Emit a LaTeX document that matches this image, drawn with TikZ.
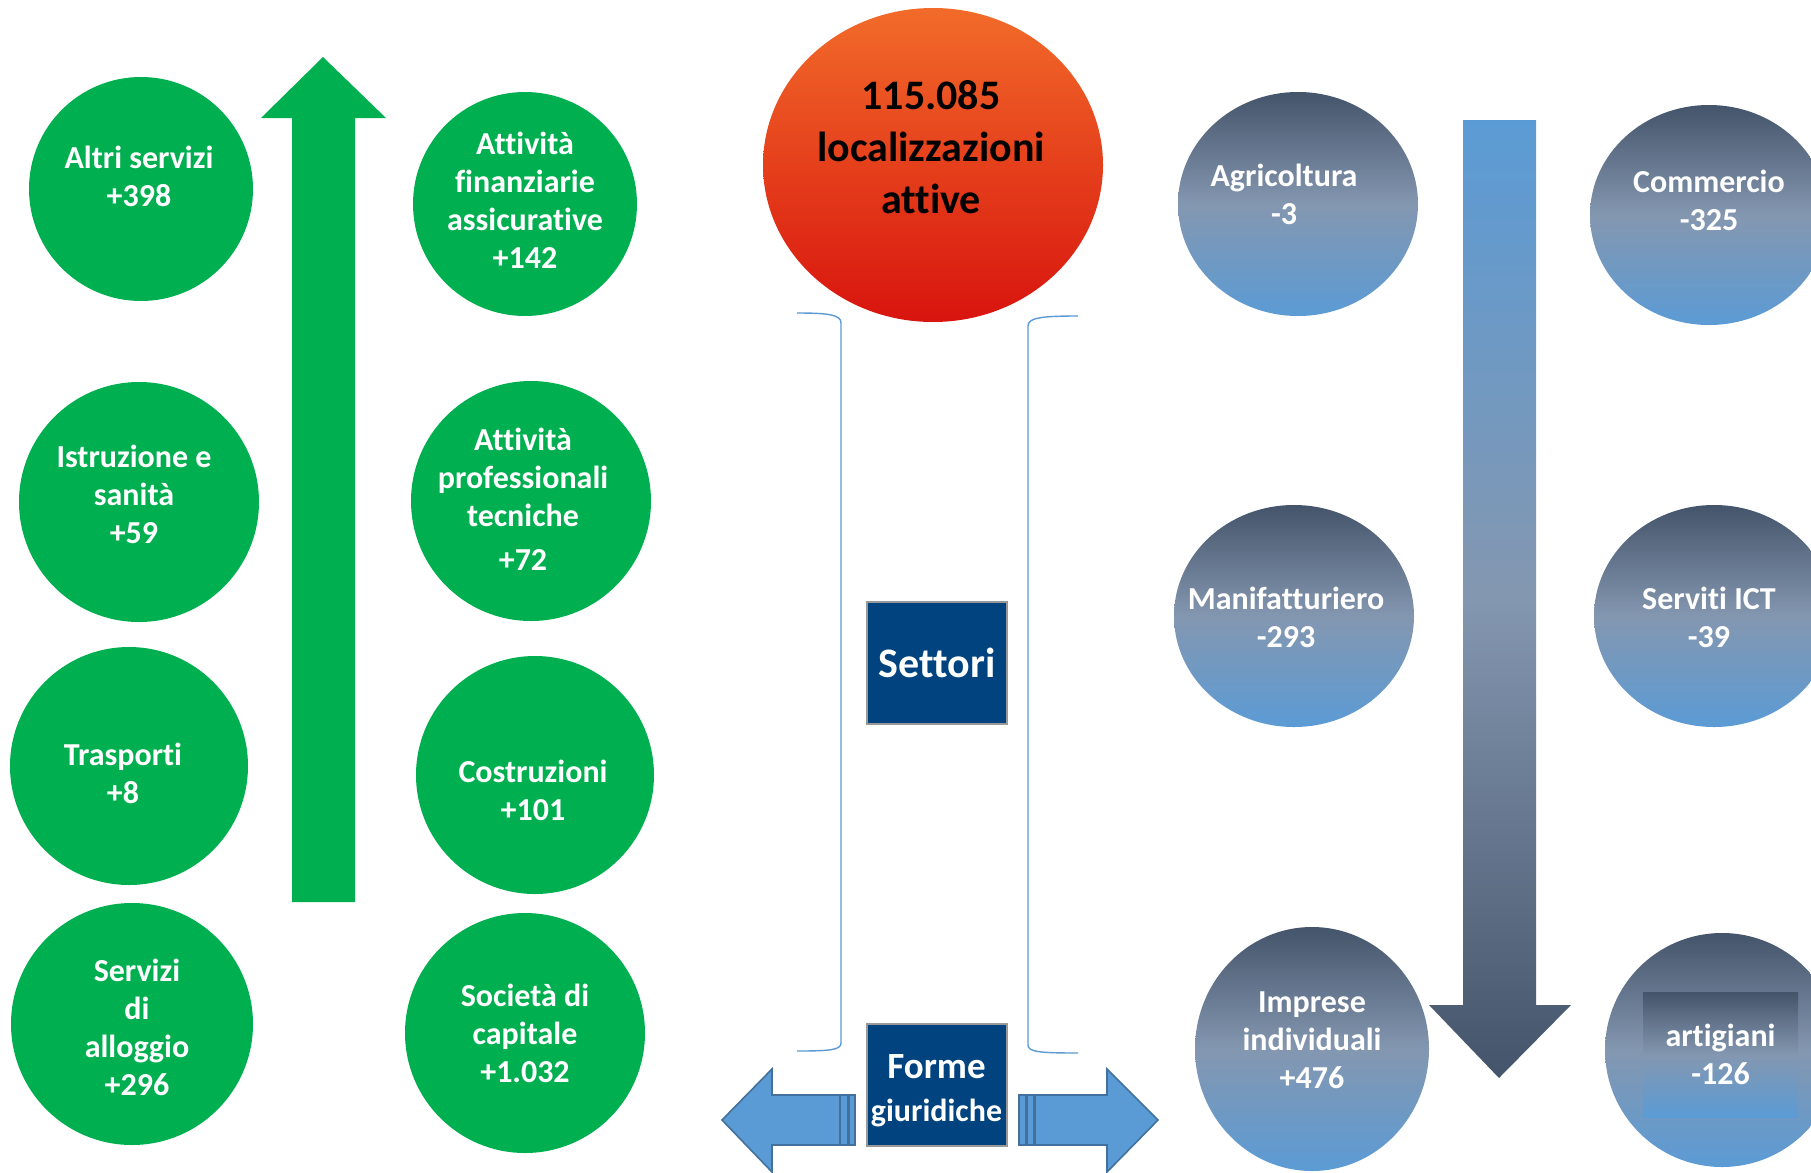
\documentclass[tikz,border=0pt]{standalone}
\usepackage{fontspec}
\setmainfont{Carlito}[Ligatures=CommonOff]
\usetikzlibrary{shapes.geometric}
\definecolor{verde}{HTML}{00B050}
\definecolor{blunotte}{HTML}{00437F}
\definecolor{azzurro}{HTML}{5B9BD5}
\definecolor{azzbordo}{HTML}{41719C}
\definecolor{ardesia}{HTML}{44546A}
\definecolor{grigioblu}{HTML}{8497B0}
\definecolor{arancio}{HTML}{F26B2A}
\definecolor{rosso}{HTML}{D8140E}

\begin{document}
\begin{tikzpicture}[x=0.5pt, y=-0.5pt,
  cresc/.style = {circle, fill=verde, inner sep=0pt},
  calo/.style = {ellipse, top color=ardesia, bottom color=azzurro, middle color=grigioblu, inner sep=0pt},
  etichetta/.style = {text=white, align=center, font=\bfseries\fontsize{16}{19}\selectfont},
  riquadro/.style = {rectangle, fill=blunotte, draw=gray!80, line width=1pt, text=white,
    align=center, inner sep=0pt, minimum width=70pt, minimum height=61pt},
  freccia/.style = {fill=azzurro, draw=azzbordo, line width=0.8pt},
  graffa/.style = {draw=azzurro, line width=0.7pt}]

\useasboundingbox (0,0) rectangle (1811,1173);
\fill[white] (0,0) rectangle (1811,1173);

% settori in crescita
\fill[verde] (323,57) -- (386,118) -- (355,118) -- (355,902) -- (292,902) -- (292,118) -- (261,118) -- cycle;
\node[cresc, minimum size=112pt] (altri) at (141,189) {};
\node[cresc, minimum size=112pt] (finanz) at (525,204) {};
\node[cresc, minimum size=120pt] (istruz) at (139,502) {};
\node[cresc, minimum size=120pt] (prof) at (531,501) {};
\node[cresc, minimum size=119pt] (trasp) at (129,766) {};
\node[cresc, minimum size=119pt] (costr) at (535,775) {};
\node[cresc, minimum size=121pt] (alloggio) at (132,1024) {};
\node[cresc, minimum size=120pt] (societa) at (525,1033) {};

\node[etichetta] (altrit) at (139,176) {Altri servizi\\+398};
\node[etichetta] (finanzt) at (525,200) {Attività\\finanziarie\\assicurative\\+142};
\node[etichetta] (istruzt) at (134,494) {Istruzione e\\sanità\\+59};
\node[etichetta] (proft) at (523,499) {Attività\\professionali\\tecniche\\[3pt]+72};
\node[etichetta] (traspt) at (123,773) {Trasporti\\+8};
\node[etichetta] (costrt) at (533,790) {Costruzioni\\+101};
\node[etichetta] (alloggiot) at (137,1027) {Servizi\\di\\alloggio\\+296};
\node[etichetta] (societat) at (525,1033) {Società di\\capitale\\+1.032};

% totale
\node[ellipse, top color=arancio, bottom color=rosso, minimum width=170pt, minimum height=157pt] (tot) at (933,165) {};
\node[align=center, font=\bfseries\fontsize{21}{26}\selectfont] (totlab) at (931,147) {115.085\\localizzazioni\\attive};

\draw[graffa] (797,313) .. controls (830,313) and (841,315) .. (841,323) -- (841,1043) .. controls (841,1050) and (830,1051) .. (797,1051);
\draw[graffa] (1078,316) .. controls (1040,316) and (1028,318) .. (1028,326) -- (1028,1045) .. controls (1028,1052) and (1040,1053) .. (1078,1053);

\node[riquadro, font=\bfseries\fontsize{21}{25}\selectfont] (settori) at (937,663) {Settori};
\node[riquadro, font=\bfseries\fontsize{16}{21.5}\selectfont] (forme) at (936.5,1084.5) {\rule{0pt}{18pt}{\fontsize{18.5}{21.5}\selectfont Forme}\\giuridiche};

% frecce forme giuridiche
\filldraw[freccia] (722,1120) -- (772,1069) -- (772,1095) -- (840,1095) -- (840,1145) -- (772,1145) -- (772,1172) -- cycle;
\filldraw[freccia] (840,1095) rectangle (848,1145);
\filldraw[freccia] (849,1095) rectangle (855,1145);
\filldraw[freccia] (1019,1095) rectangle (1026,1145);
\filldraw[freccia] (1027,1095) rectangle (1034,1145);
\filldraw[freccia] (1035,1095) -- (1107,1095) -- (1107,1069) -- (1158,1120) -- (1107,1172) -- (1107,1145) -- (1035,1145) -- cycle;

% settori in calo
\shade[top color=azzurro, bottom color=ardesia, middle color=grigioblu] (1463,120) -- (1536,120) -- (1536,1005) -- (1571,1005) -- (1499,1078) -- (1429,1005) -- (1463,1005) -- cycle;
\node[calo, minimum width=120pt, minimum height=112pt] (agri) at (1298,204) {};
\node[calo, minimum width=119pt, minimum height=110pt] (comm) at (1709,215) {};
\node[calo, minimum width=120pt, minimum height=111pt] (manif) at (1294,616) {};
\node[calo, minimum width=120pt, minimum height=111pt] (ict) at (1714,616) {};
\node[calo, minimum width=117pt, minimum height=122pt] (imprese) at (1312,1049) {};
\node[calo, minimum width=117pt, minimum height=117pt] (artig) at (1722,1050) {};

\node[etichetta] (agrit) at (1284,194) {Agricoltura\\-3};
\node[etichetta] (commt) at (1709,200) {Commercio\\-325};
\node[etichetta] (manift) at (1286,617) {Manifatturiero\\-293};
\node[etichetta] (ictt) at (1709,617) {Serviti ICT\\-39};
\node[etichetta] (impreset) at (1312,1040) {Imprese\\individuali\\+476};
\node[calo, etichetta, rectangle, minimum width=77.5pt, minimum height=62.5pt] (artiglab) at (1720.5,1054.5) {artigiani\\-126};
\end{tikzpicture}
\end{document}
